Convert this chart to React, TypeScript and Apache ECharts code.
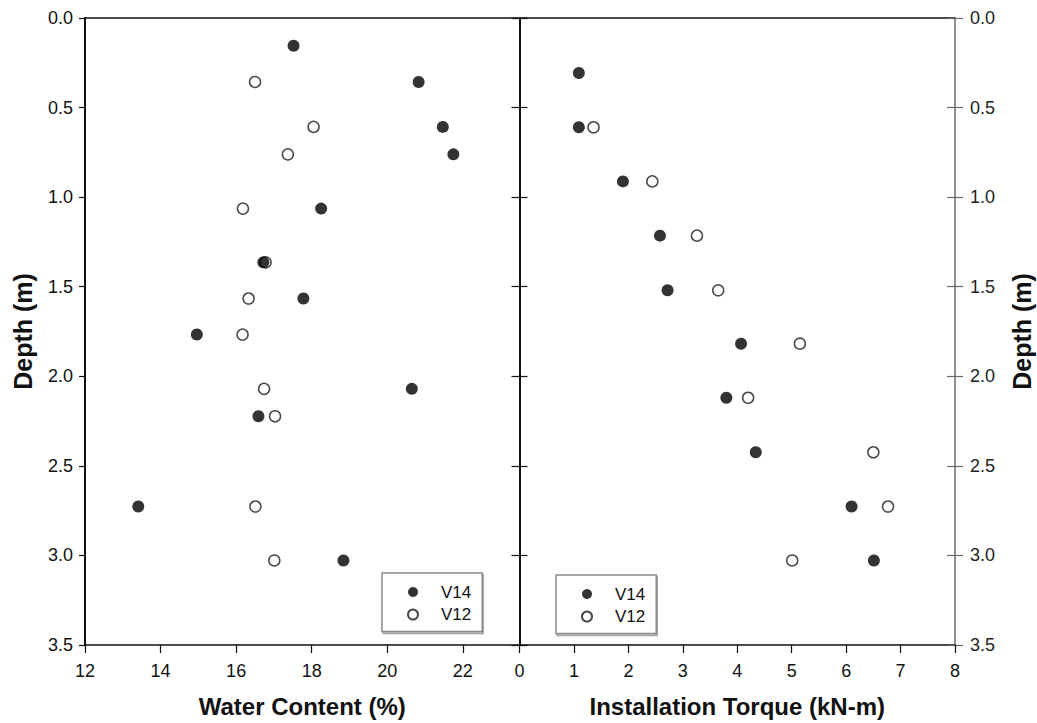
import React, { useEffect, useRef } from "react";
import * as echarts from "echarts";

// Water content profile (depth in m, water content in %)
const depthWaterV14 = [0.155, 0.357, 0.608, 0.761, 1.064, 1.364, 1.566, 1.767, 2.07, 2.223, 2.727, 3.028];
const waterV14 = [17.52, 20.83, 21.47, 21.75, 18.25, 16.72, 17.78, 14.96, 20.65, 16.59, 13.41, 18.84];
const depthWaterV12 = [0.357, 0.608, 0.761, 1.064, 1.364, 1.566, 1.767, 2.07, 2.223, 2.727, 3.028];
const waterV12 = [16.5, 18.05, 17.37, 16.18, 16.78, 16.33, 16.17, 16.74, 17.03, 16.51, 17.01];

// Installation torque profile (depth in m, torque in kN-m)
const depthTorqueV14 = [0.307, 0.61, 0.912, 1.215, 1.52, 1.818, 2.12, 2.424, 2.727, 3.028];
const torqueV14 = [1.09, 1.09, 1.9, 2.58, 2.72, 4.07, 3.8, 4.34, 6.1, 6.51];
const depthTorqueV12 = [0.61, 0.912, 1.215, 1.52, 1.818, 2.12, 2.424, 2.727, 3.028];
const torqueV12 = [1.36, 2.44, 3.26, 3.65, 5.15, 4.2, 6.5, 6.77, 5.01];

const waterTicks = [12, 14, 16, 18, 20, 22];
const legendNames = ["V14", "V12"];

const FONT = "Liberation Sans, Arial, Helvetica, sans-serif";
const INK = "#111";
const GREY = "#6a6a6a";
const TICK_FONT = 18;

const pairs = (xs: number[], ys: number[]) => xs.map((x, i) => [x, ys[i]]);

const filledStyle = { color: "#000" };
const openStyle = { color: "#fff", borderColor: "#1a1a1a", borderWidth: 1.5 };

const depthFmt = (v: number) => v.toFixed(1);

const legendBase = {
  orient: "vertical",
  data: legendNames,
  itemWidth: 10,
  itemHeight: 10,
  itemGap: 4.5,
  padding: [10, 11, 8, 25],
  borderColor: "#8a8a8a",
  borderWidth: 1.5,
  backgroundColor: "#fff",
  shadowColor: "rgba(0,0,0,0.35)",
  shadowOffsetX: 1,
  shadowOffsetY: 2,
  shadowBlur: 0,
  selectedMode: false,
  textStyle: { fontFamily: FONT, fontSize: 17, color: INK, lineHeight: 18, padding: [0, 0, 0, 18] },
};

const hiddenLabel = { show: false };
const noSplit = { show: false };

const depthAxis = (gridIndex: number, position: string, extra: any) => ({
  type: "value",
  gridIndex,
  position,
  inverse: true,
  min: 0,
  max: 3.5,
  interval: 0.5,
  splitLine: noSplit,
  ...extra,
});

const option = {
  animation: false,
  backgroundColor: "#fff",
  textStyle: { fontFamily: FONT },
  grid: [
    { left: 85, right: 517.5, top: 18, bottom: 77, containLabel: false },
    { left: 519.5, right: 82, top: 18, bottom: 77, containLabel: false },
  ],
  legend: [
    { ...legendBase, left: 382, top: 573 },
    { ...legendBase, left: 556, top: 575 },
  ],
  xAxis: [
    {
      type: "value",
      gridIndex: 0,
      position: "bottom",
      min: 12,
      max: 23.5,
      axisLine: { show: true, onZero: false, lineStyle: { color: INK, width: 1.5 } },
      axisTick: { show: true, length: 8, customValues: waterTicks, lineStyle: { color: INK, width: 1.2 } },
      axisLabel: { customValues: waterTicks, fontSize: TICK_FONT, margin: 17, color: INK, fontFamily: FONT },
      splitLine: noSplit,
      name: "Water Content (%)",
      nameLocation: "middle",
      nameGap: 49,
      nameTextStyle: { fontSize: 24, fontWeight: "bold", color: INK, fontFamily: FONT },
    },
    {
      type: "value",
      gridIndex: 1,
      position: "bottom",
      min: 0,
      max: 8,
      interval: 1,
      axisLine: { show: true, onZero: false, lineStyle: { color: INK, width: 1.5 } },
      axisTick: { show: true, length: 8, lineStyle: { color: INK, width: 1.2 } },
      axisLabel: { fontSize: TICK_FONT, margin: 17, color: INK, fontFamily: FONT },
      splitLine: noSplit,
      name: "Installation Torque (kN-m)",
      nameLocation: "middle",
      nameGap: 49,
      nameTextStyle: { fontSize: 24, fontWeight: "bold", color: INK, fontFamily: FONT },
    },
    {
      type: "value",
      gridIndex: 0,
      position: "top",
      min: 12,
      max: 23.5,
      axisLine: { show: true, onZero: false, lineStyle: { color: INK, width: 1.5 } },
      axisTick: { show: false },
      axisLabel: hiddenLabel,
      splitLine: noSplit,
    },
    {
      type: "value",
      gridIndex: 1,
      position: "top",
      min: 0,
      max: 8,
      axisLine: { show: true, onZero: false, lineStyle: { color: INK, width: 1.5 } },
      axisTick: { show: false },
      axisLabel: hiddenLabel,
      splitLine: noSplit,
    },
  ],
  yAxis: [
    depthAxis(0, "left", {
      axisLine: { show: true, onZero: false, lineStyle: { color: INK, width: 2 } },
      axisTick: { show: true, length: 6, lineStyle: { color: INK, width: 1.2 } },
      axisLabel: { formatter: depthFmt, fontSize: TICK_FONT, margin: 12, color: INK, fontFamily: FONT },
      name: "Depth (m)",
      nameLocation: "middle",
      nameGap: 50,
      nameTextStyle: { fontSize: 25, fontWeight: "bold", color: INK, fontFamily: FONT },
    }),
    depthAxis(0, "right", {
      axisLine: { show: true, onZero: false, lineStyle: { color: INK, width: 2 } },
      axisTick: { show: true, inside: true, length: 8, lineStyle: { color: INK, width: 1.2 } },
      axisLabel: hiddenLabel,
    }),
    depthAxis(1, "left", {
      axisLine: { show: true, onZero: false, lineStyle: { color: INK, width: 2 } },
      axisTick: { show: true, inside: true, length: 8, lineStyle: { color: INK, width: 1.2 } },
      axisLabel: hiddenLabel,
    }),
    depthAxis(1, "right", {
      axisLine: { show: true, onZero: false, lineStyle: { color: GREY, width: 1.5 } },
      axisTick: { show: true, length: 8, lineStyle: { color: GREY, width: 1.2 } },
      axisLabel: { formatter: depthFmt, fontSize: TICK_FONT, margin: 15, color: "#222", fontFamily: FONT },
      name: "Depth (m)",
      nameLocation: "middle",
      nameGap: 54,
      nameTextStyle: { fontSize: 25, fontWeight: "bold", color: INK, fontFamily: FONT },
    }),
    depthAxis(1, "right", {
      axisLine: { show: false, onZero: false },
      axisTick: { show: true, inside: true, length: 8, lineStyle: { color: GREY, width: 1.2 } },
      axisLabel: hiddenLabel,
    }),
  ],
  series: [
    {
      name: "V12",
      type: "scatter",
      xAxisIndex: 0,
      yAxisIndex: 0,
      symbol: "circle",
      symbolSize: 11,
      itemStyle: openStyle,
      data: pairs(waterV12, depthWaterV12),
    },
    {
      name: "V14",
      type: "scatter",
      xAxisIndex: 0,
      yAxisIndex: 0,
      symbol: "circle",
      symbolSize: 12,
      itemStyle: filledStyle,
      data: pairs(waterV14, depthWaterV14),
    },
    {
      name: "V12",
      type: "scatter",
      xAxisIndex: 1,
      yAxisIndex: 3,
      symbol: "circle",
      symbolSize: 11,
      itemStyle: openStyle,
      data: pairs(torqueV12, depthTorqueV12),
    },
    {
      name: "V14",
      type: "scatter",
      xAxisIndex: 1,
      yAxisIndex: 3,
      symbol: "circle",
      symbolSize: 12,
      itemStyle: filledStyle,
      data: pairs(torqueV14, depthTorqueV14),
    },
  ],
};

export default function App() {
  const ref = useRef<HTMLDivElement>(null);
  useEffect(() => {
    if (!ref.current) return;
    const chart = echarts.init(ref.current, null, { renderer: "svg" });
    chart.setOption(option as any);
    return () => chart.dispose();
  }, []);
  return (
    <div
      ref={ref}
      style={{ position: "fixed", left: 0, top: 0, width: 1037, height: 723, background: "#fff" }}
    />
  );
}
